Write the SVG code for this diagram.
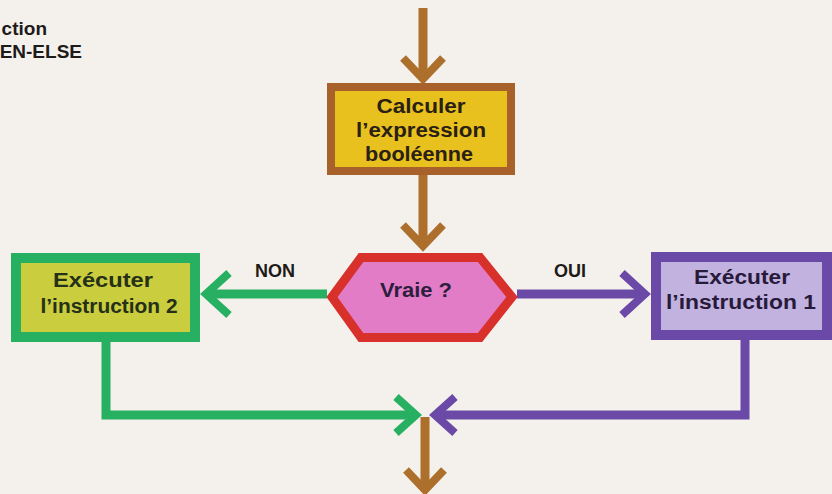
<svg xmlns="http://www.w3.org/2000/svg" width="832" height="494" viewBox="0 0 832 494">
  <style>
    text { font-family: "Liberation Sans", Arial, sans-serif; font-weight: bold; }
    .lbl { font-size: 20px; text-anchor: middle; }
    .edge { font-size: 18px; fill: #1e1a18; text-anchor: middle; }
    .head { font-size: 19px; fill: #1e1a1a; text-anchor: end; }
    .shaft { fill: none; stroke-width: 9; stroke-linecap: butt; stroke-linejoin: miter; }
    .tip { fill: none; stroke-width: 8; stroke-linecap: butt; stroke-linejoin: miter; }
    .brown { stroke: #ad6f2c; }
    .green { stroke: #27b062; }
    .violet { stroke: #6a4aa6; }
  </style>

  <!-- paper -->
  <rect width="832" height="494" fill="#f4f1ec"/>

  <!-- title, cut by the left edge -->
  <g id="title">
    <text class="head" x="47" y="35">ction</text>
    <text class="head" x="82" y="58">EN-ELSE</text>
  </g>

  <!-- connectors -->
  <g id="connectors">
    <!-- entry -->
    <path class="shaft brown" d="M423 8 V78"/>
    <path class="tip brown" d="M403 58 L423 79 L443 58"/>
    <!-- expression to test -->
    <path class="shaft brown" d="M423 175 V246"/>
    <path class="tip brown" d="M403 225 L423 246 L443 225"/>
    <!-- NON branch -->
    <path class="shaft green" d="M327 294 H206"/>
    <path class="tip green" d="M229 273 L206 294 L229 315"/>
    <!-- OUI branch -->
    <path class="shaft violet" d="M517 294 H645"/>
    <path class="tip violet" d="M622 273 L645 294 L622 315"/>
    <!-- join from instruction 2 -->
    <path class="shaft green" d="M106 342 V415 H414"/>
    <path class="tip green" d="M396 397 L416 415 L396 433"/>
    <!-- join from instruction 1 -->
    <path class="shaft violet" d="M745 340 V415 H436"/>
    <path class="tip violet" d="M455 397 L435 415 L455 433"/>
    <!-- exit -->
    <path class="shaft brown" d="M425 417 V488"/>
    <path class="tip brown" d="M406 470 L425 490 L444 470"/>
  </g>

  <!-- evaluate the boolean expression -->
  <g id="calc">
    <rect x="331" y="87" width="180" height="84" fill="#e8c11e" stroke="#a9612b" stroke-width="8"/>
    <text class="lbl" x="421" y="113" fill="#2a2014" textLength="89" lengthAdjust="spacingAndGlyphs">Calculer</text>
    <text class="lbl" x="421" y="137" fill="#2a2014" textLength="130" lengthAdjust="spacingAndGlyphs">l’expression</text>
    <text class="lbl" x="419" y="161" fill="#2a2014" textLength="108" lengthAdjust="spacingAndGlyphs">booléenne</text>
  </g>

  <!-- test -->
  <g id="test">
    <polygon points="332,297 361,257.5 480,257.5 512,297 480,337.5 361,337.5" fill="#e27cc6" stroke="#d8302a" stroke-width="9" stroke-linejoin="miter"/>
    <text class="lbl" x="416" y="297" fill="#2e1e3e" textLength="72" lengthAdjust="spacingAndGlyphs">Vraie ?</text>
  </g>

  <!-- else branch -->
  <g id="instr2">
    <rect x="16" y="258" width="179" height="79" fill="#c9cd3e" stroke="#27b062" stroke-width="10"/>
    <text class="lbl" x="103" y="287" fill="#263018" textLength="100" lengthAdjust="spacingAndGlyphs">Exécuter</text>
    <text class="lbl" x="109" y="313" fill="#263018" textLength="137" lengthAdjust="spacingAndGlyphs">l’instruction 2</text>
  </g>

  <!-- then branch -->
  <g id="instr1">
    <rect x="656" y="257" width="171" height="78" fill="#c2b2e0" stroke="#6a4aa6" stroke-width="10"/>
    <text class="lbl" x="742" y="284" fill="#281a3a" textLength="96" lengthAdjust="spacingAndGlyphs">Exécuter</text>
    <text class="lbl" x="741" y="309" fill="#281a3a" textLength="150" lengthAdjust="spacingAndGlyphs">l’instruction 1</text>
  </g>

  <!-- branch labels -->
  <g id="labels">
    <text class="edge" x="275" y="277">NON</text>
    <text class="edge" x="570" y="277">OUI</text>
  </g>
</svg>
